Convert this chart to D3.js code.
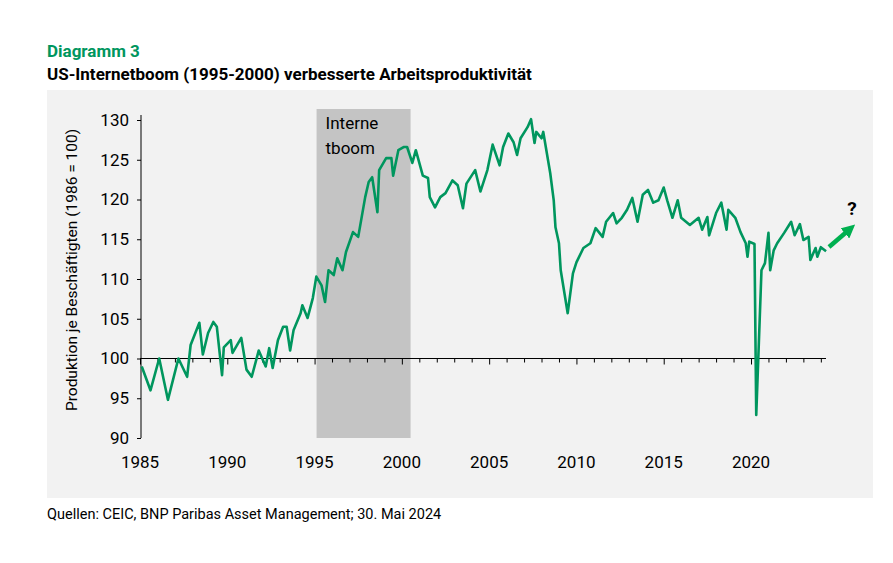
<!DOCTYPE html>
<html><head><meta charset="utf-8">
<script src="https://cdn.jsdelivr.net/npm/d3@7"></script>
<style>
body{margin:0;background:#fff;font-family:"Liberation Sans Narrow","Roboto","Noto Sans",sans-serif;}
</style></head><body>
<svg id="chart" width="893" height="563"></svg>
<script>
// years (decimal) and productivity values
const years = [1985.1,1985.6,1986.1,1986.6,1987.2,1987.7,1987.9,1988.4,1988.6,1988.9,1989.2,1989.4,1989.7,1989.8,1990.2,1990.3,1990.8,1991.1,1991.4,1991.8,1992.2,1992.4,1992.6,1992.9,1993.2,1993.4,1993.6,1993.8,1994.2,1994.3,1994.6,1994.9,1995.1,1995.4,1995.6,1995.8,1996.1,1996.3,1996.6,1996.8,1997.2,1997.5,1997.9,1998.1,1998.3,1998.6,1998.7,1999.1,1999.4,1999.5,1999.8,2000.1,2000.3,2000.6,2000.8,2001.2,2001.5,2001.6,2001.9,2002.2,2002.5,2002.9,2003.2,2003.5,2003.7,2004.2,2004.5,2004.9,2005.2,2005.6,2005.8,2006.1,2006.4,2006.6,2006.8,2007.2,2007.4,2007.6,2007.7,2008.0,2008.1,2008.5,2008.7,2008.8,2009.0,2009.1,2009.5,2009.8,2010.0,2010.4,2010.8,2011.1,2011.5,2011.7,2012.1,2012.3,2012.6,2012.9,2013.2,2013.5,2013.8,2014.1,2014.4,2014.7,2015.0,2015.2,2015.5,2015.8,2016.0,2016.5,2017.0,2017.2,2017.5,2017.6,2018.0,2018.3,2018.6,2018.7,2019.1,2019.4,2019.7,2019.8,2019.9,2020.2,2020.3,2020.6,2020.8,2021.0,2021.1,2021.3,2021.5,2021.9,2022.3,2022.5,2022.8,2023.0,2023.3,2023.4,2023.7,2023.8,2024.0,2024.3];
const values = [99,96,100,94.8,100,97.7,101.7,104.5,100.5,103.2,104.6,104,97.9,101.4,102.3,100.7,102.6,98.6,97.7,101,99,101.3,98.8,102.3,104,104,101,103.6,105.7,106.7,105.1,107.6,110.3,109.2,107.1,111.1,110.5,112.6,111.1,113.4,115.9,115.3,120.3,122.2,122.8,118.4,123.7,125.2,125.2,123,126.2,126.6,126.6,124.6,126.2,123,122.7,120.3,119,120.3,120.8,122.4,121.8,118.9,122,123.7,121,123.7,126.9,124.3,126.6,128.3,127.2,125.6,127.7,129.1,130.1,127.1,128.5,127.7,128.5,123.3,119.9,116.5,114.5,111.1,105.7,110.7,112.1,113.9,114.5,116.4,115.3,117.2,118.3,117,117.7,118.7,120.2,117.2,120.6,121.2,119.6,119.9,121.5,119.9,117.7,119.9,117.7,116.8,117.7,116.2,117.8,115.5,118.3,119.6,116.2,118.7,117.7,115.9,114.5,112.8,114.7,114.4,92.9,111.1,112,115.8,111.1,113.6,114.5,115.8,117.2,115.5,116.9,114.9,115.3,112.4,113.9,112.8,114,113.5];
const yTicks = [90,95,100,105,110,115,120,125,130];
const xTicks = [1985,1990,1995,2000,2005,2010,2015,2020];
const boom = [1995, 2000.5];

const svg = d3.select("#chart");
const green = "#00965e";

svg.append("text").attr("x",47).attr("y",57).attr("fill",green)
   .attr("font-size",17).attr("font-weight","bold").text("Diagramm 3");
svg.append("text").attr("x",47).attr("y",80).attr("fill","#000")
   .attr("font-size",17).attr("font-weight","bold")
   .text("US-Internetboom (1995-2000) verbesserte Arbeitsproduktivität");
svg.append("rect").attr("x",47).attr("y",90).attr("width",826).attr("height",408).attr("fill","#f2f2f2");
svg.append("text").attr("x",47).attr("y",519).attr("font-size",14.5).text("Quellen: CEIC, BNP Paribas Asset Management; 30. Mai 2024");

const x = d3.scaleLinear().domain([1985,2020]).range([140,751]);
const y = d3.scaleLinear().domain([90,130]).range([438,120]);

// shaded boom period
svg.append("rect").attr("x",x(boom[0])+2).attr("y",109).attr("width",x(boom[1])-x(boom[0])-2)
   .attr("height",y(90)-109).attr("fill","#c4c4c4");
svg.append("text").attr("x",x(boom[0])+11).attr("y",129).attr("font-size",17).text("Interne");
svg.append("text").attr("x",x(boom[0])+11).attr("y",154).attr("font-size",17).text("tboom");

// y axis
const ya = svg.append("g").attr("transform","translate(141,0)")
   .call(d3.axisLeft(y).tickValues(yTicks).tickSize(4).tickSizeOuter(0));
ya.select(".domain").attr("d","M0,115V438");
ya.selectAll("text").attr("font-size",17).attr("x",-12).attr("font-family","Liberation Sans Narrow, Roboto, sans-serif");
svg.append("text").attr("transform","translate(77,270) rotate(-90)").attr("text-anchor","middle")
   .attr("font-size",15.5).text("Produktion je Beschäftigten (1986 = 100)");

// x axis at 100, yearly ticks
const xa = svg.append("g").attr("transform",`translate(0,${y(100)})`)
   .call(d3.axisBottom(x).tickValues(d3.range(1985,2025)).tickSize(4).tickFormat("").tickSizeOuter(0));
xa.select(".domain").attr("d","M140,0H826");
xa.selectAll(".tick line").attr("y2",d => d%5===0 ? 6 : 4);
svg.append("g").selectAll("text").data(xTicks).join("text")
   .attr("x",d=>x(d)).attr("y",468).attr("text-anchor","middle").attr("font-size",17).text(d=>d);

// line
const pts = years.map((d,i)=>[d,values[i]]);
svg.append("path").datum(pts).attr("fill","none").attr("stroke",green).attr("stroke-width",2.6)
   .attr("stroke-linejoin","round")
   .attr("d",d3.line().x(d=>x(d[0])).y(d=>y(d[1])));

// arrow and question mark
svg.append("defs").append("marker").attr("id","ah").attr("viewBox","0 0 10 10").attr("refX",5).attr("refY",5)
   .attr("markerWidth",3).attr("markerHeight",3).attr("orient","auto")
   .append("path").attr("d","M0,0L10,5L0,10Z").attr("fill","#00b050");
svg.append("line").attr("x1",829).attr("y1",247).attr("x2",850).attr("y2",229)
   .attr("stroke","#00b050").attr("stroke-width",4.5).attr("marker-end","url(#ah)");
svg.append("text").attr("x",852).attr("y",215).attr("text-anchor","middle").attr("font-size",19).attr("font-weight","bold").text("?");
</script></body></html>
